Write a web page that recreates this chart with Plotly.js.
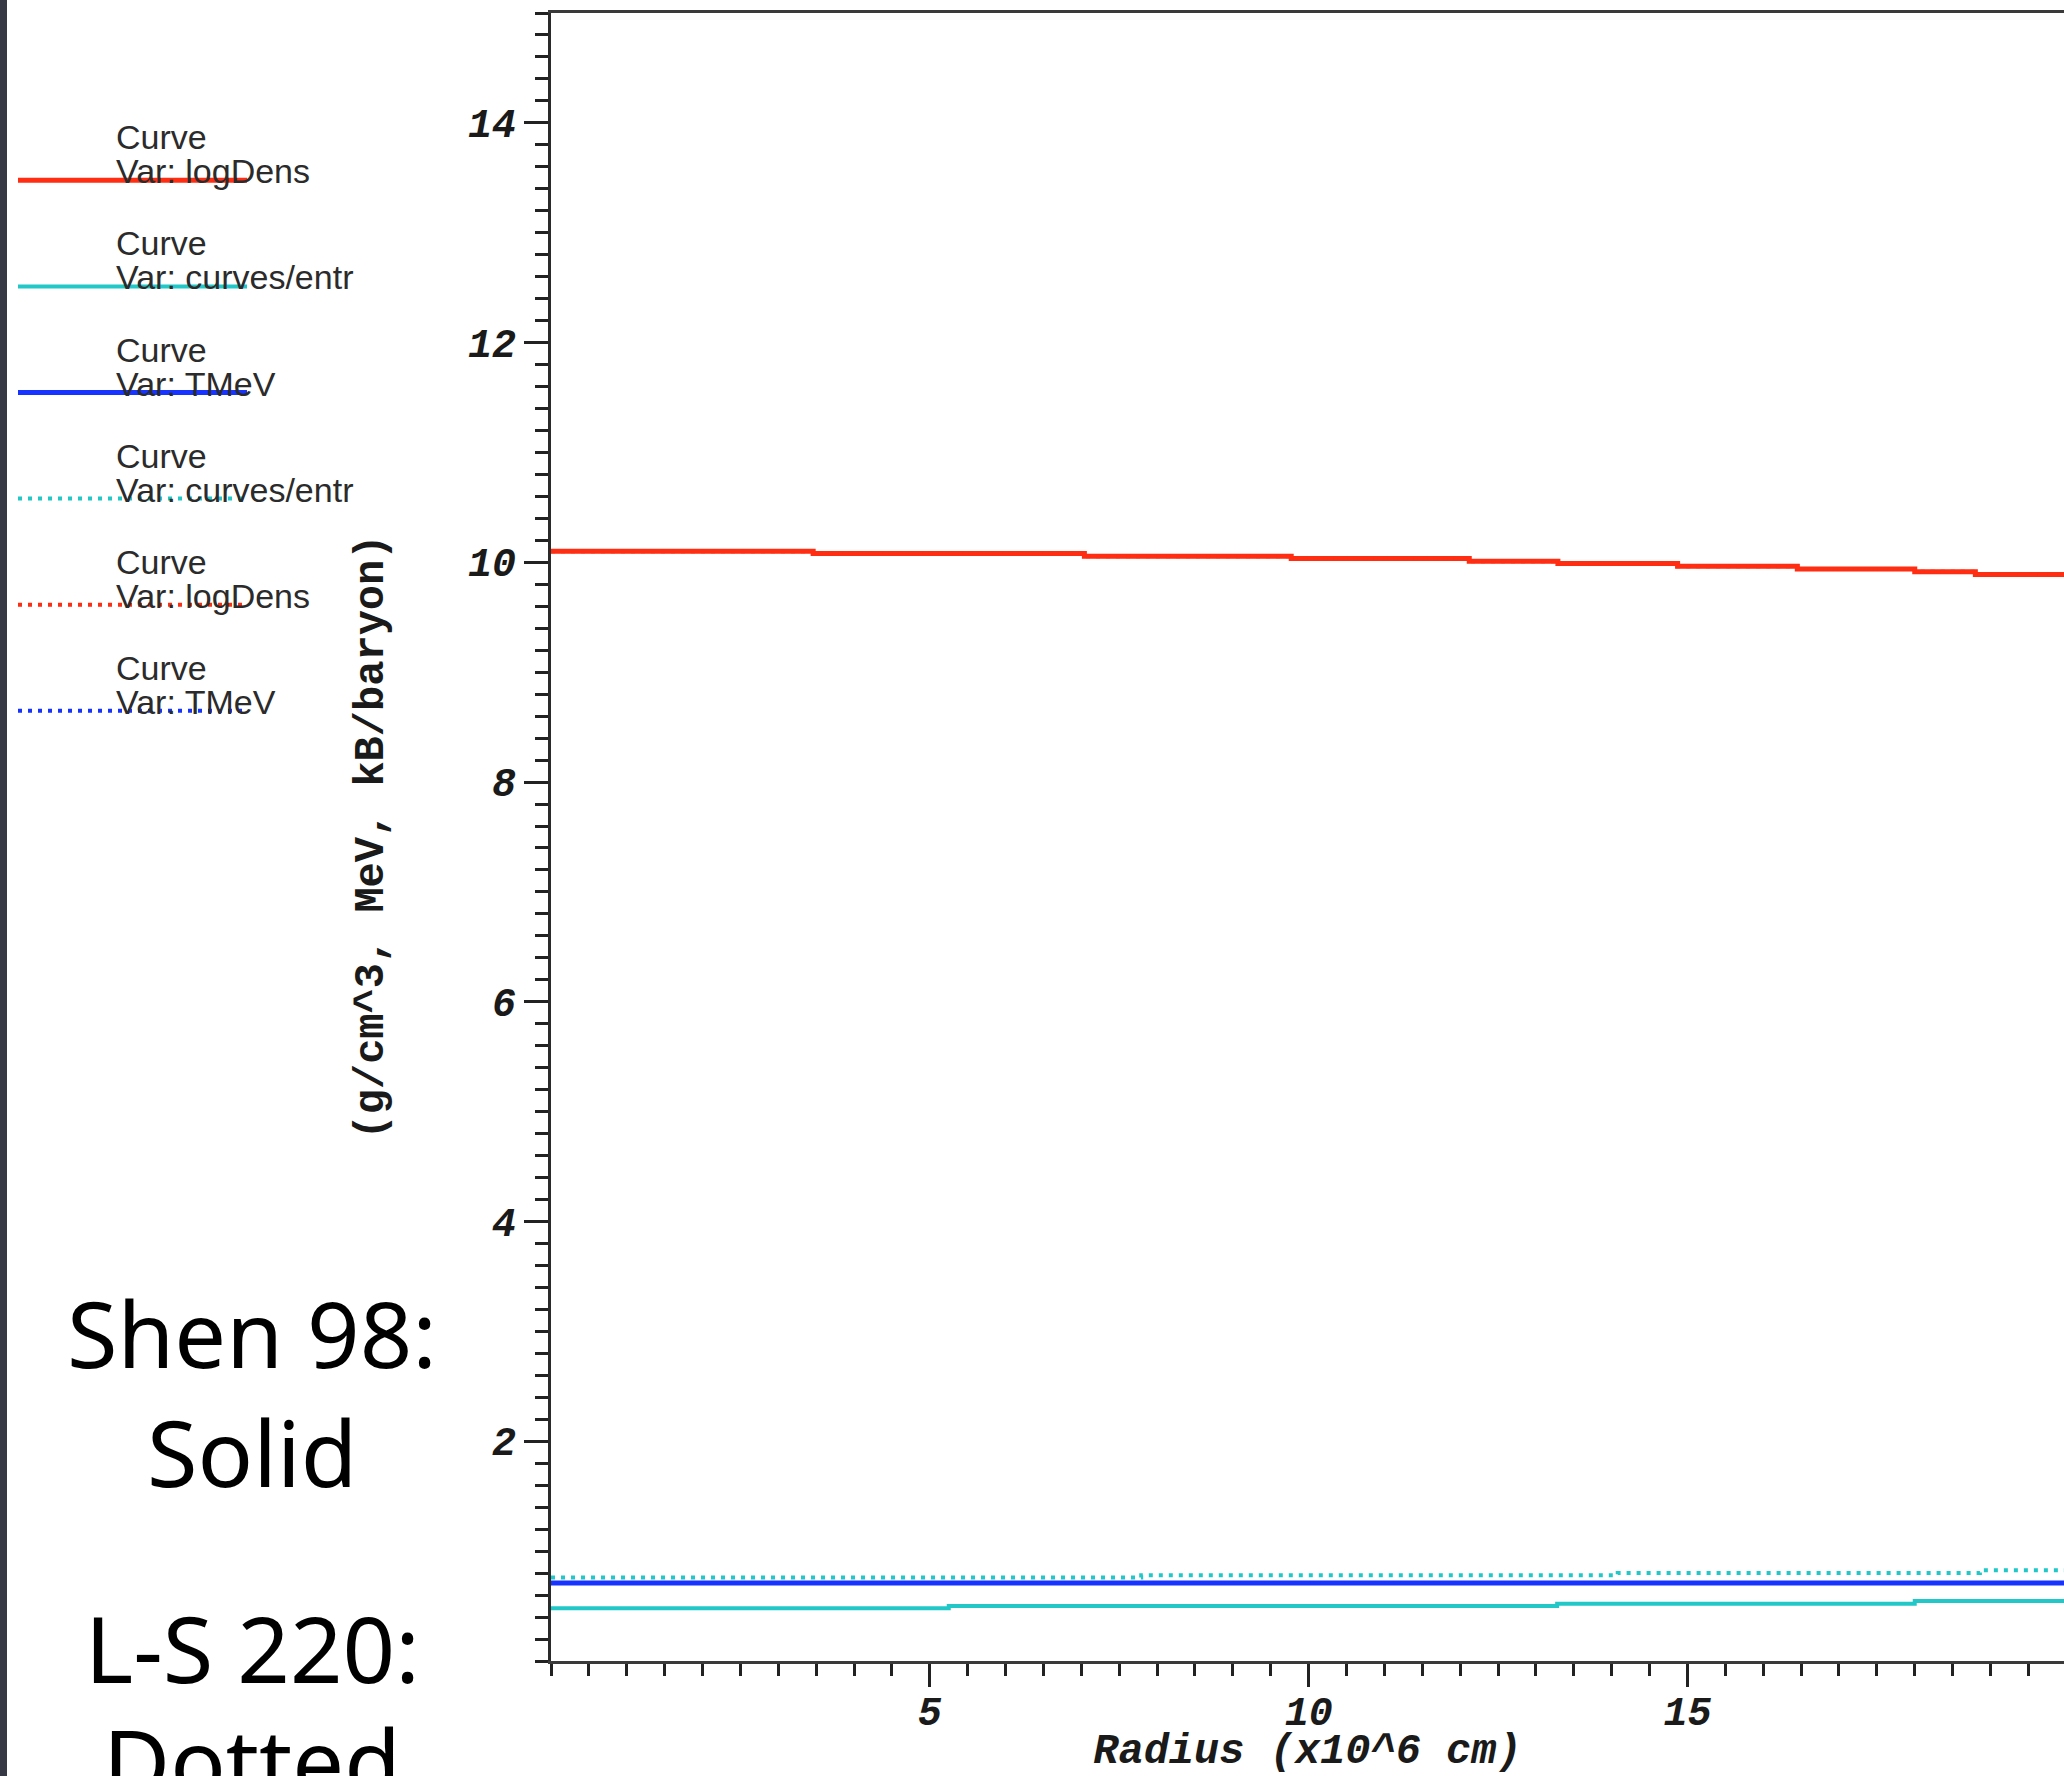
<!DOCTYPE html>
<html><head><meta charset="utf-8">
<script src="https://cdn.plot.ly/plotly-3.0.1.min.js"></script>
<style>html,body{margin:0;padding:0;background:#fff;overflow:hidden}</style>
</head><body><div id="chart" style="width:2064px;height:1776px"></div>
<script>
// ---------- data ----------
// Shen 98 EOS (solid)
const radiusDensShen   = [0, 3.46, 7.04, 9.77, 12.12, 13.29, 14.87, 16.45, 18.0, 18.8, 20];
const logDensShen      = [10.10, 10.08, 10.055, 10.035, 10.01, 9.99, 9.965, 9.94, 9.915, 9.89, 9.89];
const radiusEntrShen   = [0, 5.25, 13.28, 18.0, 20];
const entrShen         = [0.48, 0.50, 0.52, 0.545, 0.545];
const radiusTempShen   = [0, 20];
const tMeVShen         = [0.71, 0.71];
// L-S 220 EOS (dotted)
const radiusEntrLS     = [0, 7.79, 14.08, 18.86, 20];
const entrLS           = [0.76, 0.78, 0.80, 0.825, 0.825];
const radiusDensLS     = [0, 3.46, 7.04, 9.77, 12.12, 13.29, 14.87, 16.45, 18.0, 18.8, 20];
const logDensLS        = [10.10, 10.08, 10.055, 10.035, 10.01, 9.99, 9.965, 9.94, 9.915, 9.89, 9.89];
const radiusTempLS     = [0, 20];
const tMeVLS           = [0.71, 0.71];

const curveLabels = ['Var: logDens', 'Var: curves/entr', 'Var: TMeV', 'Var: curves/entr', 'Var: logDens', 'Var: TMeV'];
const xTickVals = [5, 10, 15];
const xTickText = ['5', '10', '15'];
const yTickVals = [2, 4, 6, 8, 10, 12, 14];
const yTickText = ['2', '4', '6', '8', '10', '12', '14'];
const noteLines = ['Shen 98:', 'Solid', 'L-S 220:', 'Dotted'];

// ---------- styling ----------
const RED = '#ff2d12', CYAN = '#22c8c8', BLUE = '#1633ff';
const DOT = '4px,6px';
const W = 2064, H = 1776;
const M = {l: 551, r: 0, t: 13, b: 115};
const PW = W - M.l - M.r, PH = H - M.t - M.b;
const px2x = p => (p - M.l) / PW;
const py2y = p => (M.t + PH - p) / PH;

const series = [
  {x: radiusDensShen, y: logDensShen, color: RED,  dash: 'solid', width: 5},
  {x: radiusEntrShen, y: entrShen,    color: CYAN, dash: 'solid', width: 4},
  {x: radiusTempShen, y: tMeVShen,    color: BLUE, dash: 'solid', width: 5},
  {x: radiusEntrLS,   y: entrLS,      color: CYAN, dash: DOT,     width: 4},
  {x: radiusDensLS,   y: logDensLS,   color: RED,  dash: DOT,     width: 4},
  {x: radiusTempLS,   y: tMeVLS,      color: BLUE, dash: DOT,     width: 4}
];

const traces = series.map((s, i) => ({
  type: 'scatter', mode: 'lines', x: s.x, y: s.y,
  name: 'Curve ' + curveLabels[i],
  line: {color: s.color, width: s.width, dash: s.dash, shape: 'hv'},
  showlegend: false, hoverinfo: 'skip'
}));

// custom legend (drawn in the left margin)
const shapes = [];
const annotations = [];
shapes.push({type: 'rect', xref: 'paper', yref: 'paper',
  x0: px2x(0), x1: px2x(7), y0: py2y(H), y1: py2y(0),
  fillcolor: '#363943', line: {width: 0}, layer: 'above'});

const legFont = {family: 'Liberation Sans, Arial, sans-serif', size: 34, color: '#2b2b2b'};
series.forEach((s, i) => {
  const ly = 180.3 + i * 106.1;
  annotations.push({xref: 'paper', yref: 'paper', x: px2x(114), y: py2y(ly - 43),
    xanchor: 'left', yanchor: 'middle', text: 'Curve', showarrow: false, font: legFont});
  annotations.push({xref: 'paper', yref: 'paper', x: px2x(114), y: py2y(ly - 9),
    xanchor: 'left', yanchor: 'middle', text: curveLabels[i], showarrow: false, font: legFont});
  shapes.push({type: 'line', xref: 'paper', yref: 'paper',
    x0: px2x(18), x1: px2x(247), y0: py2y(ly), y1: py2y(ly),
    line: {color: s.color, width: s.width, dash: s.dash}, layer: 'above'});
});

const noteY = [1332, 1451, 1647, 1760];
noteLines.forEach((t, i) => {
  annotations.push({xref: 'paper', yref: 'paper', x: px2x(252), y: py2y(noteY[i]),
    xanchor: 'center', yanchor: 'middle', text: t, showarrow: false,
    font: {family: 'Noto Sans, sans-serif', size: 92, color: '#000'}});
});

const tickFont = {family: 'Liberation Mono, monospace', size: 40, color: '#1a1a1a', weight: 'bold', style: 'italic'};

const layout = {
  width: W, height: H,
  margin: M,
  paper_bgcolor: '#fff', plot_bgcolor: '#fff',
  showlegend: false,
  xaxis: {
    range: [0, 19.97], showgrid: false, zeroline: false,
    showline: true, linecolor: '#3a3a3a', linewidth: 3, mirror: true,
    tickmode: 'array', tickvals: xTickVals, ticktext: xTickText,
    ticks: 'outside', ticklen: 23, tickwidth: 3, tickcolor: '#222',
    ticklabelstandoff: -10,
    minor: {dtick: 0.5, ticks: 'outside', ticklen: 12, tickwidth: 3, tickcolor: '#222', showgrid: false},
    tickfont: tickFont,
    title: {text: 'Radius (x10^6 cm)', standoff: 2,
      font: {family: 'Liberation Mono, monospace', size: 42, color: '#1a1a1a', weight: 'bold', style: 'italic'}},
    automargin: false
  },
  yaxis: {
    range: [0, 15], showgrid: false, zeroline: false,
    showline: true, linecolor: '#2a2a2a', linewidth: 3, mirror: false,
    tickmode: 'array', tickvals: yTickVals, ticktext: yTickText,
    ticks: 'outside', ticklen: 24, tickwidth: 3, tickcolor: '#222',
    minor: {dtick: 0.2, ticks: 'outside', ticklen: 13, tickwidth: 3, tickcolor: '#222', showgrid: false},
    tickfont: tickFont,
    title: {text: '\u00a0(g/cm^3, MeV, kB/baryon)', standoff: 72,
      font: {family: 'Liberation Mono, monospace', size: 42, color: '#1a1a1a', weight: 'bold'}},
    automargin: false
  },
  shapes: shapes,
  annotations: annotations
};

Plotly.newPlot('chart', traces, layout, {staticPlot: true, displayModeBar: false});
</script>
</body></html>
